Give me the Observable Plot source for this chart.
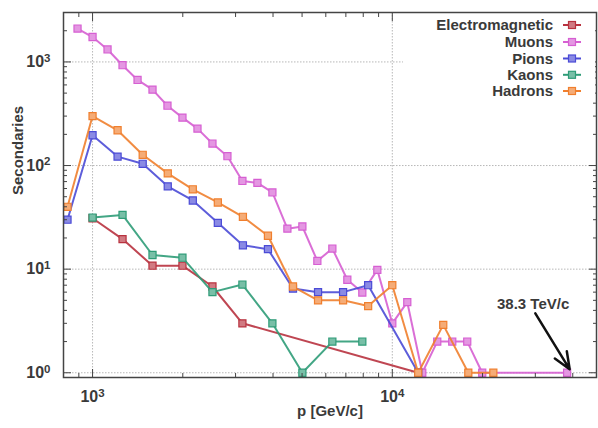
<!DOCTYPE html>
<html>
<head>
<meta charset="utf-8">
<script src="https://cdn.jsdelivr.net/npm/d3@7"></script>
<script src="https://cdn.jsdelivr.net/npm/@observablehq/plot@0.6"></script>
<style>
  html, body { margin: 0; padding: 0; background: #fff; }
  #chart svg { display: block; }
</style>
</head>
<body>
<div id="chart"></div>
<script>
// Secondaries produced per momentum bin, by particle family
const seriesNames  = ["Electromagnetic", "Muons", "Pions", "Kaons", "Hadrons"];
const seriesColors = ["#b8323f", "#d65fd2", "#4b4bd6", "#2f9c78", "#f07f2e"];

const emP   = [1000, 1259, 1585, 1995, 2512, 3162, 12200];
const emN   = [31, 19.5, 10.8, 10.8, 6.8, 3, 1];

const muonP = [891, 1000, 1122, 1259, 1413, 1585, 1778, 1995, 2239, 2512, 2818, 3162, 3548, 3981,
               4467, 5012, 5623, 6310, 7079, 7943, 8913, 10000, 11220, 12589, 14125, 15849, 17783, 19953, 38300];
const muonN = [2100, 1740, 1320, 930, 670, 540, 378, 290, 227, 163, 123, 71, 68, 55,
               24.6, 25.8, 12, 15.8, 7.9, 5.95, 9.85, 3, 4.8, 1, 2, 2, 2, 1, 1];

const pionP = [825, 1000, 1212, 1470, 1782, 2160, 2618, 3174, 3847, 4663, 5653, 6852, 8306, 12203];
const pionN = [30, 196, 122, 104, 63, 46, 28, 17, 15.6, 6.5, 6, 6, 7, 1];

const kaonP = [1000, 1259, 1585, 1995, 2512, 3162, 3981, 5012, 6310, 7943];
const kaonN = [31.5, 33.4, 13.7, 12.9, 6, 7.1, 3, 1, 2, 2];

const hadP  = [825, 1000, 1212, 1470, 1782, 2160, 2618, 3174, 3847, 4663, 5653, 6852, 8306, 10000,
               12203, 14791, 17929, 21732];
const hadN  = [40, 300, 219, 127, 84, 59, 44, 32, 21, 6.8, 5, 5, 4.4, 7,
               1, 2.9, 1, 1];

const seriesP = [emP, muonP, pionP, kaonP, hadP];
const seriesN = [emN, muonN, pionN, kaonN, hadN];

// Axis ticks
const xMajor = [1000, 10000];
const xMinor = [900, 2000, 3000, 4000, 5000, 6000, 7000, 8000, 9000, 20000, 30000, 40000];
const yMajor = [1, 10, 100, 1000];
const yMinor = [2, 3, 4, 5, 6, 7, 8, 9, 20, 30, 40, 50, 60, 70, 80, 90,
                200, 300, 400, 500, 600, 700, 800, 900, 2000];

// Annotation of the highest-momentum muon
const peakLabel = "38.3 TeV/c";
const peakP = 38300;

const font = "'Liberation Sans', Arial, sans-serif";
const pow10 = v => "10^" + Math.round(Math.log10(v));
const blank = () => "";

const rowsOf = i => seriesP[i].map((p, j) => ({series: seriesNames[i], p, n: seriesN[i][j]}));
const lighter = c => d3.interpolateRgb(c, "#ffffff")(0.35);

const seriesMarks = seriesNames.flatMap((name, i) => [
  Plot.line(rowsOf(i), {x: "p", y: "n", stroke: seriesColors[i], strokeWidth: 2, strokeOpacity: 0.9}),
  Plot.dot(rowsOf(i), {x: "p", y: "n", symbol: "square", r: 4, fill: lighter(seriesColors[i]),
                       stroke: seriesColors[i], strokeWidth: 1.2})
]);

const tickStyle = {stroke: "#444", strokeWidth: 1};

const plot = Plot.plot({
  width: 598,
  height: 428,
  marginLeft: 63,
  marginRight: 2,
  marginTop: 12,
  marginBottom: 51,
  x: {type: "log", domain: [800, 48000]},
  y: {type: "log", domain: [0.9, 3000]},
  style: {fontFamily: font, fontSize: "15px", color: "#333", background: "#fff"},
  marks: [
    Plot.gridX(xMajor, {stroke: "#888", strokeOpacity: 0.6, strokeDasharray: "1.5,1.5"}),
    Plot.gridY(yMajor, {stroke: "#888", strokeOpacity: 0.6, strokeDasharray: "1.5,1.5"}),
    ...seriesMarks,
    // inward tick marks on all four sides
    Plot.axisX(xMajor, {anchor: "bottom", tickSize: -8, tickFormat: blank, label: null, ...tickStyle}),
    Plot.axisX(xMinor, {anchor: "bottom", tickSize: -4, tickFormat: blank, label: null, ...tickStyle}),
    Plot.axisX(xMajor, {anchor: "top", tickSize: -8, tickFormat: blank, label: null, ...tickStyle}),
    Plot.axisX(xMinor, {anchor: "top", tickSize: -4, tickFormat: blank, label: null, ...tickStyle}),
    Plot.axisY(yMajor, {anchor: "left", tickSize: -8, tickFormat: blank, label: null, ...tickStyle}),
    Plot.axisY(yMinor, {anchor: "left", tickSize: -4, tickFormat: blank, label: null, ...tickStyle}),
    Plot.axisY(yMajor, {anchor: "right", tickSize: -8, tickFormat: blank, label: null, ...tickStyle}),
    Plot.axisY(yMinor, {anchor: "right", tickSize: -4, tickFormat: blank, label: null, ...tickStyle}),
    // tick labels (powers of ten)
    Plot.axisX(xMajor, {anchor: "bottom", tickSize: 0, tickPadding: 13, tickFormat: pow10, label: null,
                        fontSize: 16, fontWeight: "bold", fill: "#3a3a3a"}),
    Plot.axisY(yMajor, {anchor: "left", tickSize: 0, tickPadding: 13, tickFormat: pow10, label: null,
                        fontSize: 16, fontWeight: "bold", fill: "#3a3a3a"}),
    // axis titles
    Plot.text(["p [GeV/c]"], {frameAnchor: "bottom", dy: 38, fontSize: 15, fontWeight: "bold", fill: "#3a3a3a"}),
    Plot.text(["Secondaries"], {frameAnchor: "left", rotate: -90, dx: -45, fontSize: 15, fontWeight: "bold", fill: "#3a3a3a"}),
    // annotation
    Plot.text([peakLabel], {x: () => 29500, y: () => 4.63, fontSize: 15, fontWeight: "bold", fill: "#3a3a3a"}),
    Plot.arrow([peakP], {x1: () => 30000, y1: () => 3.75, x2: () => peakP * 1.02, y2: () => 1.08,
                         stroke: "#111", strokeWidth: 2.5, headLength: 11, headAngle: 45}),
    Plot.frame({stroke: "#444", strokeWidth: 1.5})
  ]
});

const svg = d3.select(plot);

// Render "10^k" tick labels with a raised exponent
svg.selectAll("text").each(function() {
  const t = d3.select(this);
  const m = /^10\^(-?\d+)$/.exec(t.text());
  if (!m) return;
  t.text("10");
  t.append("tspan").attr("dy", "-0.45em").attr("font-size", "0.72em").text(m[1]);
});

// Key in the top-right corner, on a white panel
const key = svg.append("g").attr("font-family", font)
  .attr("font-size", 15).attr("font-weight", "bold");
key.append("rect").attr("x", 403).attr("y", 13).attr("width", 192).attr("height", 88).attr("fill", "#fff");
const rowY = [25, 42, 58.5, 74.8, 91];
seriesNames.forEach((name, i) => {
  const g = key.append("g").attr("transform", `translate(0,${rowY[i]})`);
  g.append("text").attr("x", 553).attr("dy", "0.35em").attr("text-anchor", "end").attr("fill", "#3a3a3a").text(name);
  g.append("line").attr("x1", 563).attr("x2", 581).attr("stroke", seriesColors[i]).attr("stroke-width", 2);
  g.append("rect").attr("x", 568.5).attr("y", -3.5).attr("width", 7).attr("height", 7)
    .attr("fill", lighter(seriesColors[i])).attr("stroke", seriesColors[i]).attr("stroke-width", 1.2);
});
// keep frame above the key panel
svg.node().appendChild(svg.select("[aria-label=frame]").node());

document.getElementById("chart").appendChild(plot);
</script>
</body>
</html>
